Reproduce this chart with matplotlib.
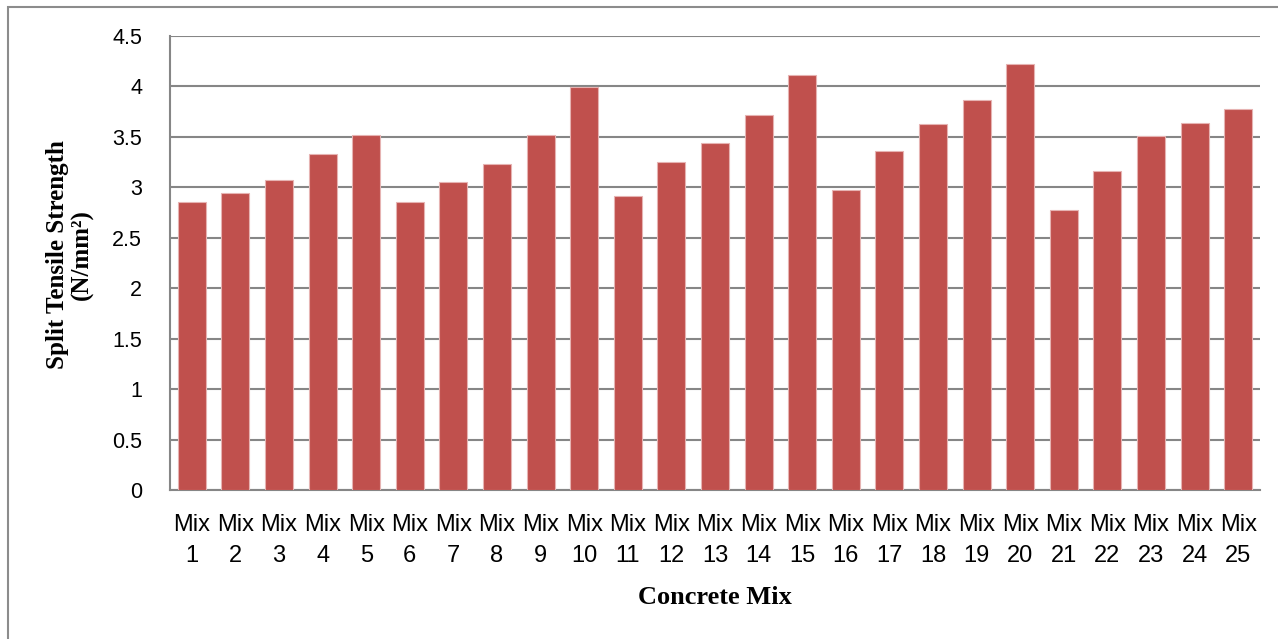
import matplotlib
matplotlib.use("Agg")
import matplotlib.pyplot as plt
from matplotlib.patches import Rectangle

# Split tensile strength per concrete mix
mixes = [f"Mix\n{i}" for i in range(1, 26)]
strength = [2.85, 2.94, 3.07, 3.33, 3.52, 2.85, 3.05, 3.23, 3.52, 3.99,
            2.91, 3.25, 3.44, 3.72, 4.11, 2.97, 3.36, 3.63, 3.87, 4.22,
            2.78, 3.16, 3.51, 3.64, 3.78]
y_ticks = [0, 0.5, 1, 1.5, 2, 2.5, 3, 3.5, 4, 4.5]
y_tick_labels = ["0", "0.5", "1", "1.5", "2", "2.5", "3", "3.5", "4", "4.5"]

tick_font = ["Liberation Sans", "DejaVu Sans"]
title_font = ["Liberation Serif", "DejaVu Serif"]

W, H = 1278, 639
fig = plt.figure(figsize=(W / 100, H / 100), dpi=100)
ax = fig.add_axes([170 / W, (H - 490) / H, (1260 - 170) / W, (490 - 36) / H])

x = range(len(mixes))
ax.bar(x, strength, width=0.64, color="#C0504D", edgecolor="#E6B3B2",
       linewidth=0.8, zorder=3)

ax.set_xlim(-0.5, len(mixes) - 0.5)
ax.set_ylim(0, 4.5)
ax.set_yticks(y_ticks)
ax.set_yticklabels(y_tick_labels, fontsize=15.5, family=tick_font)
ax.set_xticks(list(x))
ax.set_xticklabels(mixes, fontsize=17, family=tick_font, linespacing=1.55)
ax.tick_params(axis="both", length=0)
ax.tick_params(axis="y", pad=20)
ax.tick_params(axis="x", pad=17)

ax.grid(axis="y", color="#868686", linewidth=1.5, zorder=0)
for side in ("top", "right"):
    ax.spines[side].set_visible(False)
for side in ("left", "bottom"):
    ax.spines[side].set_color("#868686")
    ax.spines[side].set_linewidth(1.5)

fig.text(70 / W, 1 - 255 / H, "Split Tensile Strength\n(N/mm²)",
         rotation=90, ha="center", va="center", fontsize=18,
         fontweight="bold", family=title_font, linespacing=1.05)
fig.text(715 / W, 1 - 597 / H, "Concrete Mix", ha="center", va="center",
         fontsize=19, fontweight="bold", family=title_font)

# Outer chart frame
fig.patches.append(Rectangle((8 / W, -0.05), 1.2, 1 - 7 / H + 0.05,
                             transform=fig.transFigure, fill=False,
                             edgecolor="#8C8C8C", linewidth=1.5))

fig.savefig("out.png", dpi=100)
